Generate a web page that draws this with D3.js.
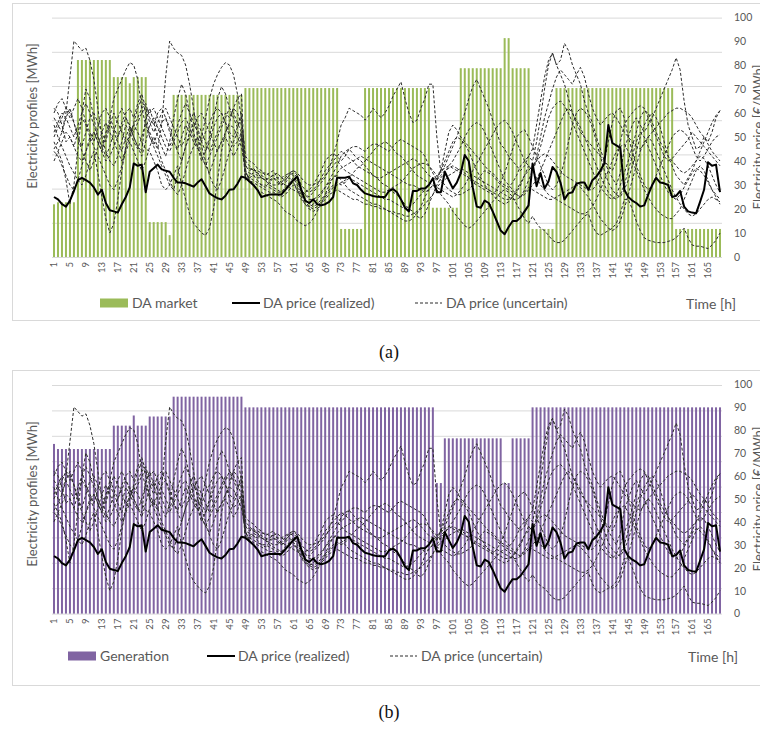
<!DOCTYPE html>
<html>
<head>
<meta charset="utf-8">
<script src="https://cdn.jsdelivr.net/npm/d3@7"></script>
<style>
  body { margin: 0; background: #fff; }
  svg text { font-family: Lato, "Open Sans", "Noto Sans", sans-serif; fill: #595959; }
  svg text.caption { font-family: "Liberation Serif", "DejaVu Serif", serif; fill: #111; }
</style>
</head>
<body>
<svg id="chart" width="760" height="731"></svg>
<script>
// ---- Data -------------------------------------------------------------
const hours = d3.range(1, 169);

const hourTickLabels = [1, 5, 9, 13, 17, 21, 25, 29, 33, 37, 41, 45, 49, 53, 57, 61, 65, 69, 73, 77, 81,
  85, 89, 93, 97, 101, 105, 109, 113, 117, 121, 125, 129, 133, 137, 141, 145, 149, 153, 157, 161, 165];

const priceTicks = [0, 10, 20, 30, 40, 50, 60, 70, 80, 90, 100];

// Day-ahead market schedule [MWh]
const daMarket = [
  77, 80, 80, 80, 80, 80, 288, 288, 288, 288, 288, 288, 288, 288, 288, 263, 263, 263, 263, 254, 263, 263, 263, 263,
  51, 51, 51, 51, 51, 32, 237, 237, 237, 237, 237, 237, 237, 237, 237, 237, 237, 237, 237, 237, 237, 237, 237, 237,
  247, 247, 247, 247, 247, 247, 247, 247, 247, 247, 247, 247, 247, 247, 247, 247, 247, 247, 247, 247, 247, 247, 247, 247,
  41, 41, 41, 41, 41, 41, 247, 247, 247, 247, 247, 247, 247, 247, 247, 247, 247, 247, 247, 247, 247, 247, 247, 72,
  72, 72, 72, 72, 72, 72, 276, 276, 276, 276, 276, 276, 276, 276, 276, 276, 276, 320, 320, 276, 276, 276, 276, 276,
  41, 41, 41, 41, 41, 41, 247, 247, 247, 247, 247, 247, 247, 247, 247, 247, 247, 247, 247, 247, 247, 247, 247, 247,
  247, 247, 247, 247, 247, 247, 247, 247, 247, 247, 247, 247, 41, 41, 41, 41, 41, 41, 41, 41, 41, 41, 41, 41
];

// Generation profile [MWh]
const generation = [
  334, 324, 324, 324, 324, 324, 324, 324, 324, 324, 324, 324, 324, 324, 324, 370, 370, 370, 370, 370, 390, 370, 370, 370,
  388, 388, 388, 388, 388, 388, 427, 427, 427, 427, 427, 427, 427, 427, 427, 427, 427, 427, 427, 427, 427, 427, 427, 427,
  406, 406, 406, 406, 406, 406, 406, 406, 406, 406, 406, 406, 406, 406, 406, 406, 406, 406, 406, 406, 406, 406, 406, 406,
  406, 406, 406, 406, 406, 406, 406, 406, 406, 406, 406, 406, 406, 406, 406, 406, 406, 406, 406, 406, 406, 406, 406, 406,
  257, 257, 345, 345, 345, 345, 345, 345, 345, 345, 345, 345, 345, 345, 345, 345, 345, 257, 257, 345, 345, 345, 345, 345,
  406, 406, 406, 406, 406, 406, 406, 406, 406, 406, 406, 406, 406, 406, 406, 406, 406, 406, 406, 406, 406, 406, 406, 406,
  406, 406, 406, 406, 406, 406, 406, 406, 406, 406, 406, 406, 406, 406, 406, 406, 406, 406, 406, 406, 406, 406, 406, 406
];

// Realized day-ahead price [€/MWh]
const priceRealized = [
  25, 24, 22, 21, 23.5, 27.5, 32, 33, 32, 31, 29, 26, 28, 22.5, 19.5, 19, 18.5, 22, 25, 29, 39, 38, 38.5, 27,
  35.5, 37, 38.5, 36.5, 36, 35.5, 33, 31, 31, 30.7, 30, 29.3, 31, 32.4, 29.5, 26.5, 25.4, 24.5, 24, 25.5, 28, 28.2, 30.5, 33.5,
  33, 31.5, 30, 28, 25, 25.5, 26, 26, 26, 26, 28, 30, 32, 33.5, 28, 23.5, 22.5, 24, 22, 21.5, 22, 23, 25, 33,
  33, 33, 33.5, 30.7, 30, 28, 26.5, 26, 25.4, 25.1, 25, 25, 27.5, 28.3, 27, 24, 20.5, 19, 27.5, 27.5, 28.5, 28.5, 30, 32.8,
  27, 27, 35.5, 32, 28.6, 31, 35, 42.5, 40, 29, 21, 20.5, 23.5, 22.5, 19, 15, 11, 9.5, 12.5, 15, 15, 16.5, 19, 21.5,
  39, 29.5, 35, 28.5, 31.5, 37.5, 35.5, 31, 24, 26.5, 27, 30.5, 31, 31, 28, 32, 33.5, 36, 39, 55, 47.5, 46.5, 45.5, 28,
  25, 23.5, 22.5, 21, 21.5, 26, 30, 33, 31, 30.7, 30, 25, 25.5, 27.5, 21, 19, 18.5, 18.2, 23, 28, 39.5, 38, 38.5, 27
];

// Day-ahead price scenarios [€/MWh]
const priceScenario1 = [
  58, 55, 52, 60, 75, 90, 88, 86, 87, 82, 74, 62, 50, 44, 40, 38, 42, 48, 55, 52, 48, 45, 50, 56,
  52, 48, 45, 55, 75, 90, 87, 85, 84, 80, 72, 62, 50, 42, 38, 35, 40, 45, 48, 50, 46, 42, 45, 50,
  38, 36, 37, 35, 34, 33, 32, 33, 31, 30, 32, 34, 35, 33, 28, 26, 25, 27, 29, 31, 33, 37, 42, 48,
  55, 58, 62, 61, 60, 59, 57, 59, 62, 60, 58, 60, 63, 67, 70, 73, 66, 60, 56, 57, 62, 66, 72, 72,
  50, 35, 38, 42, 46, 50, 55, 60, 66, 71, 74, 70, 66, 62, 57, 52, 47, 45, 42, 40, 38, 36, 38, 42,
  40, 48, 58, 70, 80, 85, 80, 82, 89, 86, 80, 76, 72, 65, 60, 56, 50, 45, 40, 36, 33, 30, 35, 45,
  50, 55, 58, 55, 52, 55, 58, 62, 66, 70, 74, 78, 83, 78, 65, 55, 50, 45, 46, 50, 48, 52, 58, 61
];
const priceScenario2 = [
  62, 60, 55, 48, 50, 46, 52, 58, 55, 50, 52, 48, 44, 50, 58, 66, 70, 74, 78, 81, 80, 74, 62, 55,
  50, 47, 52, 56, 58, 54, 48, 45, 50, 55, 52, 48, 45, 50, 58, 66, 72, 76, 79, 81, 80, 76, 68, 58,
  42, 40, 39, 37, 36, 34, 35, 36, 33, 31, 30, 29, 28, 27, 26, 27, 28, 30, 33, 36, 40, 42, 43, 42,
  40, 42, 45, 46, 46, 45, 44, 46, 47, 47, 46, 45, 44, 46, 48, 49, 48, 47, 46, 45, 44, 42, 38, 35,
  32, 36, 44, 52, 55, 53, 50, 48, 46, 44, 42, 40, 38, 36, 35, 33, 31, 30, 29, 31, 34, 38, 40, 42,
  45, 55, 65, 75, 82, 85, 80, 76, 72, 66, 60, 56, 52, 50, 48, 46, 44, 42, 40, 38, 36, 40, 48, 55,
  58, 60, 62, 63, 62, 58, 54, 50, 46, 42, 40, 41, 43, 45, 47, 49, 52, 50, 48, 46, 44, 42, 40, 38
];
const priceScenario3 = [
  48, 44, 40, 32, 22, 30, 45, 60, 70, 66, 58, 50, 46, 52, 56, 52, 48, 44, 50, 54, 50, 46, 44, 58,
  62, 56, 50, 46, 42, 48, 58, 66, 72, 68, 60, 52, 46, 40, 44, 48, 54, 58, 60, 56, 50, 46, 48, 52,
  35, 33, 34, 32, 30, 29, 31, 33, 32, 30, 31, 33, 31, 28, 24, 22, 21, 22, 24, 26, 29, 32, 35, 38,
  42, 44, 45, 43, 41, 40, 38, 36, 34, 33, 31, 30, 29, 27, 26, 24, 22, 20, 19, 17, 16, 18, 22, 26,
  30, 33, 35, 38, 40, 43, 46, 50, 53, 55, 56, 55, 52, 48, 44, 40, 36, 32, 30, 28, 26, 25, 28, 32,
  36, 42, 50, 58, 64, 70, 75, 78, 76, 74, 72, 76, 79, 75, 68, 62, 58, 55, 57, 59, 60, 58, 55, 52,
  50, 48, 46, 45, 47, 50, 52, 54, 56, 58, 60, 61, 62, 62, 61, 60, 58, 55, 52, 50, 47, 44, 42, 40
];
const priceScenario4 = [
  55, 50, 46, 42, 38, 35, 32, 30, 34, 40, 44, 35, 25, 16, 10, 14, 24, 36, 46, 52, 55, 52, 48, 45,
  44, 40, 36, 30, 28, 30, 34, 38, 30, 24, 18, 14, 12, 10, 9, 12, 20, 32, 44, 52, 55, 54, 50, 46,
  36, 32, 30, 28, 27, 26, 25, 24, 23, 21, 19, 18, 17, 15, 14, 13, 14, 16, 19, 22, 26, 30, 33, 34,
  32, 30, 28, 27, 26, 25, 24, 23, 22, 22, 21, 20, 19, 18, 17, 16, 15, 15, 16, 18, 21, 25, 28, 30,
  28, 26, 24, 22, 19, 17, 15, 13, 12, 13, 15, 17, 19, 21, 23, 25, 27, 28, 27, 25, 22, 19, 16, 14,
  17, 14, 12, 11, 9, 7, 6, 6, 7, 9, 11, 13, 15, 17, 18, 13, 10, 9, 10, 11, 12, 14, 18, 24,
  24, 20, 15, 11, 8, 7, 6.5, 6, 6, 6, 6.5, 7, 8, 10, 12, 8, 5, 4.5, 4.5, 4, 3.5, 5, 7, 10
];
const priceScenario5 = [
  45, 48, 52, 58, 62, 56, 50, 46, 52, 58, 60, 56, 52, 48, 55, 60, 56, 52, 48, 50, 55, 58, 62, 64,
  58, 55, 60, 62, 58, 52, 48, 44, 40, 46, 52, 56, 54, 48, 44, 50, 58, 66, 71, 68, 62, 58, 54, 60,
  40, 38, 36, 35, 33, 32, 30, 29, 28, 27, 29, 31, 33, 30, 27, 24, 22, 21, 22, 24, 26, 28, 30, 31,
  30, 31, 33, 35, 37, 38, 40, 42, 44, 46, 47, 48, 47, 45, 43, 42, 40, 38, 36, 34, 33, 32, 31, 30,
  29, 28, 27, 26, 25, 26, 28, 30, 33, 36, 39, 42, 45, 48, 51, 54, 56, 57, 55, 52, 48, 44, 40, 38,
  36, 40, 46, 52, 58, 62, 64, 65, 63, 60, 56, 52, 48, 44, 40, 36, 32, 29, 27, 25, 24, 26, 30, 35,
  40, 46, 52, 58, 61, 60, 56, 52, 48, 45, 42, 40, 38, 36, 35, 36, 38, 40, 44, 48, 52, 56, 59, 61
];
const priceScenario6 = [
  40, 44, 48, 52, 50, 46, 42, 40, 44, 48, 52, 48, 44, 40, 42, 46, 50, 54, 58, 55, 50, 46, 42, 48,
  55, 58, 54, 50, 46, 44, 48, 52, 56, 58, 54, 50, 46, 42, 38, 42, 46, 50, 54, 58, 62, 60, 56, 52,
  36, 35, 34, 33, 33, 32, 33, 34, 35, 33, 32, 34, 36, 34, 30, 28, 27, 28, 30, 33, 36, 38, 40, 42,
  44, 43, 41, 40, 38, 37, 36, 35, 34, 33, 33, 34, 35, 36, 37, 38, 39, 40, 41, 40, 38, 36, 34, 33,
  32, 34, 36, 37, 38, 37, 36, 35, 33, 31, 30, 29, 28, 27, 26, 28, 31, 35, 40, 45, 50, 52, 53, 50,
  46, 42, 38, 34, 30, 28, 30, 34, 40, 48, 55, 60, 62, 61, 58, 54, 48, 42, 36, 31, 28, 26, 25, 28,
  32, 38, 44, 50, 55, 58, 60, 58, 54, 48, 42, 38, 34, 32, 30, 33, 36, 40, 42, 41, 38, 34, 30, 27
];
const priceScenario7 = [
  50, 54, 58, 62, 60, 56, 50, 44, 40, 36, 40, 46, 52, 56, 52, 48, 44, 40, 45, 50, 56, 62, 66, 60,
  50, 46, 42, 38, 34, 30, 28, 34, 40, 46, 50, 54, 58, 60, 56, 52, 48, 44, 48, 52, 56, 62, 60, 55,
  34, 33, 32, 31, 30, 30, 29, 28, 27, 27, 28, 30, 31, 29, 26, 23, 21, 20, 21, 23, 25, 27, 29, 30,
  31, 32, 33, 32, 31, 30, 29, 28, 27, 26, 25, 24, 24, 23, 22, 21, 20, 21, 22, 24, 26, 28, 30, 32,
  34, 36, 37, 38, 37, 36, 35, 34, 33, 32, 31, 30, 29, 28, 27, 26, 25, 24, 24, 25, 27, 30, 34, 38,
  36, 33, 30, 28, 26, 25, 24, 23, 22, 21, 20, 19, 18, 18, 19, 21, 24, 28, 32, 36, 40, 44, 46, 47,
  44, 40, 36, 32, 28, 25, 22, 20, 18, 17, 16, 16, 18, 20, 24, 28, 32, 36, 38, 36, 32, 28, 25, 22
];
const priceScenario8 = [
  52, 56, 60, 58, 54, 50, 55, 60, 64, 60, 55, 50, 46, 42, 46, 52, 58, 62, 58, 54, 52, 56, 60, 62,
  60, 62, 58, 54, 50, 46, 50, 55, 60, 64, 60, 56, 52, 48, 52, 56, 60, 62, 60, 56, 52, 50, 54, 58,
  38, 37, 36, 36, 35, 35, 34, 34, 33, 33, 34, 35, 36, 35, 33, 31, 30, 30, 31, 32, 34, 36, 38, 40,
  38, 36, 35, 34, 33, 32, 31, 30, 29, 28, 27, 27, 28, 29, 30, 31, 33, 35, 37, 38, 39, 39, 38, 36,
  34, 32, 30, 28, 27, 26, 26, 27, 28, 30, 32, 34, 36, 35, 34, 32, 30, 29, 28, 27, 26, 25, 26, 28,
  30, 32, 36, 40, 44, 48, 52, 56, 60, 62, 60, 57, 54, 50, 46, 42, 38, 34, 30, 27, 25, 24, 26, 30,
  36, 42, 48, 52, 50, 46, 42, 38, 34, 30, 27, 25, 24, 26, 29, 32, 35, 37, 36, 34, 31, 28, 26, 24
];
const priceScenario9 = [
  44, 42, 38, 34, 30, 28, 32, 38, 44, 50, 46, 42, 38, 34, 30, 28, 32, 38, 44, 48, 44, 40, 36, 40,
  46, 50, 46, 40, 36, 32, 28, 26, 30, 36, 42, 46, 50, 46, 40, 34, 30, 28, 32, 38, 44, 48, 52, 50,
  33, 32, 31, 30, 29, 28, 27, 27, 26, 25, 26, 28, 30, 28, 25, 22, 20, 19, 20, 22, 24, 26, 27, 28,
  27, 26, 25, 24, 24, 23, 22, 22, 21, 21, 20, 20, 19, 19, 18, 18, 17, 17, 18, 19, 20, 22, 24, 26,
  29, 31, 32, 34, 35, 36, 37, 36, 35, 34, 33, 32, 31, 30, 29, 28, 27, 26, 25, 24, 24, 25, 27, 29,
  28, 27, 26, 25, 24, 24, 25, 26, 27, 28, 29, 30, 29, 27, 25, 22, 19, 16, 14, 12, 11, 12, 15, 20,
  26, 32, 38, 44, 48, 50, 48, 44, 40, 36, 32, 28, 25, 22, 20, 18, 17, 18, 20, 22, 24, 25, 24, 23
];
const priceScenario10 = [
  60, 64, 66, 62, 58, 62, 66, 62, 56, 52, 48, 54, 60, 62, 58, 54, 50, 56, 60, 62, 58, 64, 68, 62,
  56, 52, 56, 60, 62, 58, 54, 50, 46, 50, 56, 60, 56, 52, 48, 44, 48, 52, 56, 60, 58, 62, 66, 68,
  32, 34, 35, 34, 33, 32, 31, 30, 30, 31, 33, 35, 34, 31, 28, 26, 24, 24, 25, 27, 29, 31, 33, 35,
  37, 38, 39, 40, 41, 42, 41, 40, 39, 38, 37, 36, 35, 34, 33, 32, 31, 30, 30, 29, 28, 27, 28, 30,
  33, 36, 40, 44, 48, 50, 49, 47, 44, 40, 36, 33, 30, 28, 26, 24, 23, 22, 23, 25, 28, 31, 34, 36,
  38, 40, 42, 43, 42, 40, 38, 36, 34, 33, 32, 31, 30, 29, 28, 28, 30, 34, 40, 48, 56, 61, 62, 58,
  50, 44, 38, 34, 30, 28, 30, 34, 38, 42, 46, 50, 52, 53, 52, 50, 46, 42, 40, 42, 45, 48, 50, 51
];
const priceScenarios = [priceScenario1, priceScenario2, priceScenario3, priceScenario4, priceScenario5,
  priceScenario6, priceScenario7, priceScenario8, priceScenario9, priceScenario10];

// ---- Layout -----------------------------------------------------------
const svg = d3.select('#chart');
const X0 = 52, X1 = 722;

const x = d3.scaleBand().domain(hours).range([X0, X1]).paddingInner(0.5).paddingOuter(0.25);
const xc = h => x(h) + x.bandwidth() / 2;

const panels = [
  { bars: daMarket, color: '#9BBB59', barName: 'DA market', energyMax: 350, energyStep: 50,
    frameTop: 3, frameH: 317, bottom: 257, gridTop: 17.6, priceTop: 17,
    legendY: 303, swatchX: 100, lineX: 232, dashX: 415, timeX: 686,
    leftTitleY: 116, rightTitleY: 137, caption: '(a)', captionY: 358 },
  { bars: generation, color: '#8064A2', barName: 'Generation', energyMax: 450, energyStep: 50,
    frameTop: 370, frameH: 315, bottom: 613.6, gridTop: 385, priceTop: 384,
    legendY: 656, swatchX: 68, lineX: 207, dashX: 390, timeX: 688,
    leftTitleY: 494, rightTitleY: 499, caption: '(b)', captionY: 718 }
];

panels.forEach(p => {
  const g = svg.append('g');
  const yE = d3.scaleLinear().domain([0, p.energyMax]).range([p.bottom, p.gridTop]);
  const yP = d3.scaleLinear().domain([0, 100]).range([p.bottom, p.priceTop]);

  // chart frame
  g.append('rect')
    .attr('x', 12.5).attr('y', p.frameTop + 0.5)
    .attr('width', 770).attr('height', p.frameH)
    .attr('fill', 'none').attr('stroke', '#d9d9d9');

  // gridlines of the (unlabelled) energy axis
  g.append('g')
    .attr('transform', `translate(${X0},0)`)
    .call(d3.axisLeft(yE).tickValues(d3.range(0, p.energyMax + 1, p.energyStep)).tickSize(-(X1 - X0)).tickFormat(''))
    .call(a => a.select('.domain').remove())
    .call(a => a.selectAll('line').attr('stroke', '#d9d9d9'));

  // energy bars
  g.append('g').selectAll('rect')
    .data(hours)
    .join('rect')
    .attr('x', h => x(h))
    .attr('width', x.bandwidth())
    .attr('y', h => yE(p.bars[h - 1]))
    .attr('height', h => p.bottom - yE(p.bars[h - 1]))
    .attr('fill', p.color);

  // price lines
  const line = d3.line().x((d, i) => xc(hours[i])).y(d => yP(d));
  g.append('g').selectAll('path')
    .data(priceScenarios)
    .join('path')
    .attr('d', line)
    .attr('fill', 'none')
    .attr('stroke', '#2b2b2b')
    .attr('stroke-width', 1)
    .attr('stroke-dasharray', '3,2');
  g.append('path')
    .attr('d', line(priceRealized))
    .attr('fill', 'none')
    .attr('stroke', '#000')
    .attr('stroke-width', 2)
    .attr('stroke-linejoin', 'round');

  // secondary (price) axis
  g.append('g')
    .attr('transform', 'translate(734,0)')
    .call(d3.axisRight(yP).tickValues(priceTicks).tickSize(0).tickPadding(0))
    .call(a => a.select('.domain').remove())
    .call(a => a.selectAll('text').attr('font-size', 10.5).attr('fill', '#595959').style('font-family', 'Lato, sans-serif'));

  // hour labels
  g.append('g').selectAll('text')
    .data(hourTickLabels)
    .join('text')
    .attr('transform', h => `translate(${xc(h)},${p.bottom + 5}) rotate(-90)`)
    .attr('text-anchor', 'end')
    .attr('dy', '0.35em')
    .attr('font-size', 9.5)
    .text(h => h);

  // axis titles
  g.append('text')
    .attr('transform', `translate(37,${p.leftTitleY}) rotate(-90)`)
    .attr('text-anchor', 'middle')
    .attr('font-size', 13)
    .text('Electricity profiles [MWh]');
  g.append('text')
    .attr('transform', `translate(763,${p.rightTitleY}) rotate(-90)`)
    .attr('text-anchor', 'middle')
    .attr('font-size', 13)
    .text('Electricity price [€/MWh]');

  // legend
  const ly = p.legendY;
  g.append('rect').attr('x', p.swatchX).attr('y', ly - 4.5).attr('width', 28).attr('height', 9).attr('fill', p.color);
  g.append('text').attr('x', p.swatchX + 32).attr('y', ly).attr('dy', '0.35em').attr('font-size', 14).text(p.barName);
  g.append('line').attr('x1', p.lineX).attr('x2', p.lineX + 28).attr('y1', ly).attr('y2', ly)
    .attr('stroke', '#000').attr('stroke-width', 2);
  g.append('text').attr('x', p.lineX + 31).attr('y', ly).attr('dy', '0.35em').attr('font-size', 14).text('DA price (realized)');
  g.append('line').attr('x1', p.dashX).attr('x2', p.dashX + 27).attr('y1', ly).attr('y2', ly)
    .attr('stroke', '#2b2b2b').attr('stroke-width', 1).attr('stroke-dasharray', '3,2');
  g.append('text').attr('x', p.dashX + 31).attr('y', ly).attr('dy', '0.35em').attr('font-size', 14).text('DA price (uncertain)');
  g.append('text').attr('x', p.timeX).attr('y', ly + 1).attr('dy', '0.35em').attr('font-size', 14).text('Time [h]');

  // panel caption
  svg.append('text')
    .attr('class', 'caption')
    .attr('x', 389).attr('y', p.captionY)
    .attr('text-anchor', 'middle')
    .attr('font-size', 18)
    .text(p.caption);
});
</script>
</body>
</html>
